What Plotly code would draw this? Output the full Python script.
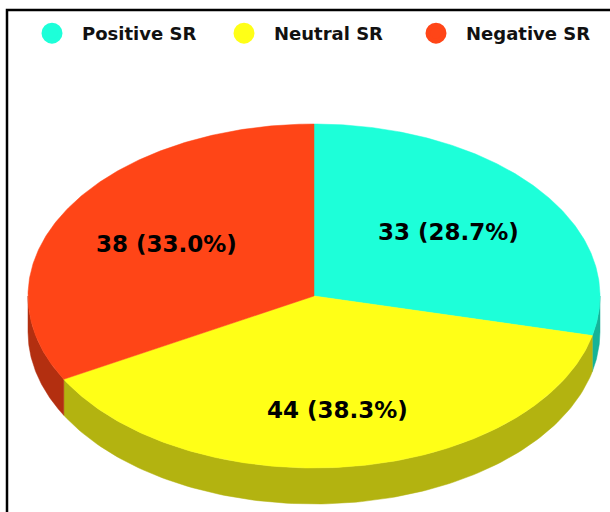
import numpy as np
import plotly.graph_objects as go

# ---- data ----
labels = ["Positive SR", "Neutral SR", "Negative SR"]
values = [33, 44, 38]
top_colors = ["#1DFFD9", "#FFFF17", "#FF4517"]
side_colors = ["#15B398", "#B3B310", "#B32F10"]

# ---- pie geometry (pixels, axes mapped 1:1 to the page) ----
W, H = 610, 512
CX, CY = 314, 296
RX, RY = 286, 172
DEPTH = 36
LABEL_R = 0.6


def ell(t, dy=0.0):
    return CX + RX * np.sin(t), CY - RY * np.cos(t) + dy


total = float(sum(values))
fracs = [v / total for v in values]
starts = np.concatenate([[0.0], np.cumsum(fracs)[:-1]]) * 2 * np.pi
ends = np.cumsum(fracs) * 2 * np.pi

fig = go.Figure()

# side walls (front half only: angles pi/2 .. 3pi/2)
for a, b, col in zip(starts, ends, side_colors):
    lo, hi = max(a, np.pi / 2), min(b, 3 * np.pi / 2)
    if hi <= lo:
        continue
    t = np.linspace(lo, hi, 120)
    x1, y1 = ell(t)
    x2, y2 = ell(t[::-1], DEPTH)
    fig.add_trace(go.Scatter(
        x=np.concatenate([x1, x2, x1[:1]]), y=np.concatenate([y1, y2, y1[:1]]),
        fill="toself", fillcolor=col, mode="lines", line=dict(width=0.5, color=col),
        hoverinfo="skip", showlegend=False))

# top faces
for a, b, col, lab, v in zip(starts, ends, top_colors, labels, values):
    t = np.linspace(a, b, 200)
    x, y = ell(t)
    fig.add_trace(go.Scatter(
        x=np.concatenate([[CX], x, [CX]]), y=np.concatenate([[CY], y, [CY]]),
        fill="toself", fillcolor=col, mode="lines", line=dict(width=0.5, color=col),
        name=lab, text=f"{v}", hoverinfo="name+text", showlegend=False))

# slice labels (front-facing slices sit a little lower because of the 3D tilt)
for a, b, v, f in zip(starts, ends, values, fracs):
    m = (a + b) / 2
    lx = CX + LABEL_R * RX * np.sin(m)
    ly = CY - LABEL_R * RY * np.cos(m) + DEPTH / 3 * max(0.0, -np.cos(m))
    fig.add_annotation(x=lx, y=ly, text=f"<b>{v} ({f*100:.1f}%)</b>", showarrow=False,
                       font=dict(family="DejaVu Sans", size=23, color="#000000"))

# legend entries
for lab, col in zip(labels, top_colors):
    fig.add_trace(go.Scatter(x=[None], y=[None], mode="markers", name=lab,
                             marker=dict(size=16, color=col, symbol="circle",
                                         line=dict(width=5, color=col))))

# outer frame
fig.add_shape(type="rect", xref="paper", yref="paper",
              x0=7 / W, x1=1.2, y0=-0.2, y1=1 - 10 / H,
              line=dict(color="#000000", width=2.5), fillcolor="rgba(0,0,0,0)")

fig.update_layout(
    width=W, height=H, margin=dict(l=0, r=0, t=0, b=0),
    paper_bgcolor="white", plot_bgcolor="white",
    xaxis=dict(range=[0, W], visible=False, fixedrange=True),
    yaxis=dict(range=[H, 0], visible=False, fixedrange=True),
    showlegend=True,
    legend=dict(orientation="h", x=22 / W, y=1 - 15 / H, xanchor="left", yanchor="top",
                itemwidth=50, entrywidth=127, entrywidthmode="pixels",
                bgcolor="rgba(0,0,0,0)",
                font=dict(family="DejaVu Sans", size=18, color="#111111", weight="bold")),
)

fig.write_html("out.html", config={"displayModeBar": False},
               post_script="document.body.style.margin='0';")
